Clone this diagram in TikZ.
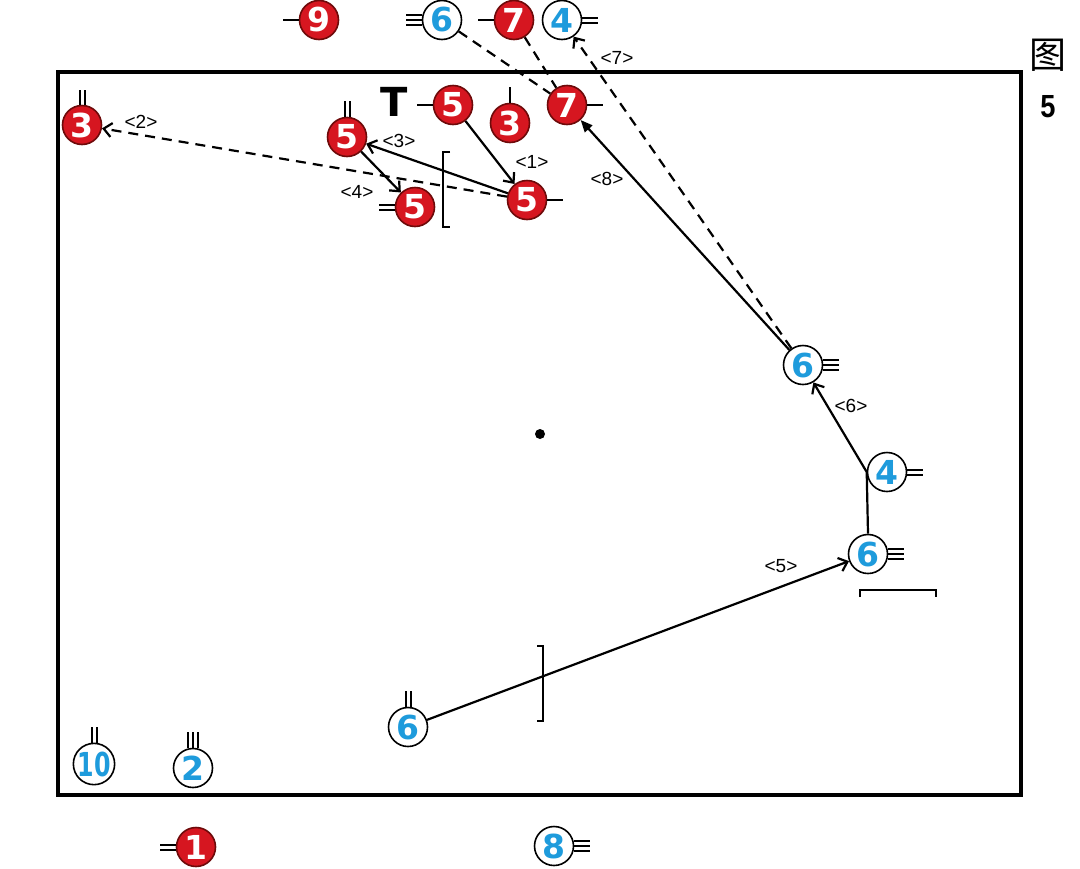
\documentclass[tikz,border=0pt]{standalone}
\usepackage{fontspec}
\usepackage{graphicx}
\setmainfont{Liberation Sans}
\newfontfamily\dejavu{DejaVu Sans}
\newfontfamily\cjk{Noto Sans CJK SC}
\newcommand\playerfont{\dejavu\bfseries\fontsize{16.5}{16.5}\selectfont}
\newcommand\tagfont{\fontsize{9.5}{9.5}\selectfont}
\definecolor{pRed}{RGB}{214,22,32}
\definecolor{pRedDark}{RGB}{110,10,10}
\definecolor{pBlue}{RGB}{30,155,220}
\usetikzlibrary{arrows.meta,calc}

\begin{document}
\begin{tikzpicture}[x=0.5pt,y=-0.5pt,
  redman/.style={circle,draw=pRedDark,fill=pRed,line width=0.8pt,minimum size=19.5pt,inner sep=0pt,text=white,font=\playerfont},
  blueman/.style={circle,draw=black,fill=white,line width=0.8pt,minimum size=19.5pt,inner sep=0pt,text=pBlue,font=\playerfont},
  tick/.style={line width=1pt},
  run/.style={line width=1.1pt},
  pass/.style={line width=1.1pt,dash pattern=on 5pt off 3.5pt},
  barb/.style={-{Straight Barb[length=4pt,width=7pt]}},
  lbl/.style={font=\tagfont}]
  \useasboundingbox (0,0) rectangle (1080,868);
  % court
  \draw[line width=1.7pt] (58,72) rectangle (1021,795);
  \fill (540,434) circle (5);
  \node[font=\cjk\fontsize{18.5}{18.5}\selectfont] (fig)  at (1048,55)  {图};
  \node[font=\bfseries\fontsize{16}{16}\selectfont] (fign) at (1048,107) {\scalebox{0.85}[1]{5}};
  \node[font=\dejavu\bfseries\fontsize{20}{20}\selectfont] (T) at (394,102) {T};
  % red players
  \node[redman]  (R9)   at (319,20)  {9};
  \node[redman]  (R7a)  at (514,20)  {7};
  \node[redman]  (R7)   at (567,105) {7};
  \node[redman]  (R5a)  at (453,105) {5};
  \node[redman]  (R3a)  at (510,123) {3};
  \node[redman]  (R5b)  at (347,137) {5};
  \node[redman]  (R5c)  at (415,207) {5};
  \node[redman]  (R5d)  at (527,200) {5};
  \node[redman]  (R3b)  at (82,125)  {3};
  \node[redman]  (R1)   at (196,847) {1};
  % blue players
  \node[blueman] (B6a)  at (442,20)  {6};
  \node[blueman] (B4a)  at (562,20)  {4};
  \node[blueman] (B6b)  at (803,365) {6};
  \node[blueman] (B4b)  at (887,472) {4};
  \node[blueman] (B6c)  at (868,554) {6};
  \node[blueman] (B6d)  at (408,727) {6};
  \node[blueman] (B10)  at (94,764)  {\scalebox{0.72}[1]{10}};
  \node[blueman] (B2)   at (193,768) {2};
  \node[blueman] (B8)   at (554,846) {8};
  % facing marks
  \draw[tick] (R9.west) -- ++(-16,0);
  \draw[tick] (R7a.west) -- ++(-16,0);
  \draw[tick] (R7.east) -- ++(16,0);
  \draw[tick] (R5a.west) -- ++(-16,0);
  \draw[tick] (R3a.north) -- ++(0,-16);
  \draw[tick] (R5d.east) -- ++(16,0);
  \foreach \o in {-2.5,2.5} {
    \draw[tick] ($(R5b.north)+(\o,0)$) -- ++(0,-16);
    \draw[tick] ($(R5c.west)+(0,\o)$) -- ++(-16,0);
    \draw[tick] ($(R3b.north)+(\o,0)$) -- ++(0,-15);
    \draw[tick] ($(R1.west)+(0,\o)$) -- ++(-16,0);
    \draw[tick] ($(B4a.east)+(0,\o)$) -- ++(16,0);
    \draw[tick] ($(B4b.east)+(0,\o)$) -- ++(16,0);
    \draw[tick] ($(B6d.north)+(\o,0)$) -- ++(0,-16);
    \draw[tick] ($(B10.north)+(\o,0)$) -- ++(0,-16);
  }
  \foreach \o in {-5,0,5} {
    \draw[tick] ($(B6a.west)+(0,\o)$) -- ++(-16,0);
    \draw[tick] ($(B6b.east)+(0,\o)$) -- ++(16,0);
    \draw[tick] ($(B6c.east)+(0,\o)$) -- ++(16,0);
    \draw[tick] ($(B8.east)+(0,\o)$) -- ++(16,0);
    \draw[tick] ($(B2.north)+(\o,0)$) -- ++(0,-16);
  }
  % screens
  \draw[run] (450,152) -- (443,152) -- (443,227) -- (450,227);
  \draw[run] (537,646) -- (543,646) -- (543,721) -- (537,721);
  \draw[run] (860,597) -- (860,590) -- (936,590) -- (936,597);
  % moves and passes
  \draw[run,barb]  (R5a) -- (R5d);
  \draw[pass,barb] (R5d) -- (R3b);
  \draw[run,barb]  (R5d) -- (R5b);
  \draw[run,barb]  (R5b) -- (R5c);
  \draw[run,barb]  (B6d) -- (B6c);
  \draw[run,barb]  (B6c.north) -- (B4b.west) -- (B6b);
  \draw[pass,barb] (B6b) -- (B4a);
  \draw[run,-{Triangle[length=6pt,width=5pt]}] (B6b) -- (R7);
  \draw[pass] (B6a) -- (R7);
  \draw[pass] (R7a) -- (R7);
  \node[lbl] (L1) at (532,162) {<1>};
  \node[lbl] (L2) at (141,122) {<2>};
  \node[lbl] (L3) at (399,141) {<3>};
  \node[lbl] (L4) at (357,192) {<4>};
  \node[lbl] (L5) at (781,566) {<5>};
  \node[lbl] (L6) at (851,406) {<6>};
  \node[lbl] (L7) at (617,58)  {<7>};
  \node[lbl] (L8) at (607,179) {<8>};
\end{tikzpicture}
\end{document}
